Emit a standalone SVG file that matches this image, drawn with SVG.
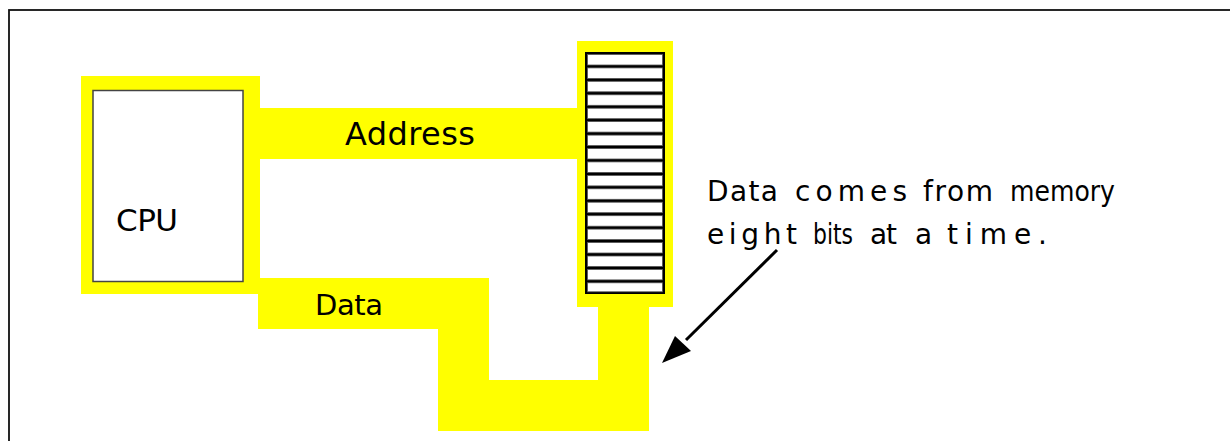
<svg xmlns="http://www.w3.org/2000/svg" width="1230" height="441" viewBox="0 0 1230 441">
<style>
.bus{fill:#ffff00}
.lbl{font-family:"DejaVu Sans",Verdana,sans-serif;fill:#000}
.nt{font-family:"DejaVu Sans",Verdana,sans-serif;fill:#000;font-size:28px}
.cell{fill:#fff;stroke:#555;stroke-width:0.8}
</style>
<rect x="0" y="0" width="1230" height="441" fill="#fff"/>
<rect x="9" y="10" width="1240" height="460" fill="none" stroke="#111" stroke-width="1.8"/>
<g id="connectors">
<rect id="address-bus" class="bus" x="258" y="108" width="322" height="51"/>
<polygon id="data-bus" class="bus" points="258,278 489,278 489,380 598,380 598,305 649,305 649,431 438,431 438,329 258,329"/>
<text class="lbl" x="345" y="145" font-size="32" textLength="130" lengthAdjust="spacing">Address</text>
<text class="lbl" x="315" y="315" font-size="29" textLength="68" lengthAdjust="spacing">Data</text>
<line x1="777" y1="250" x2="686" y2="340" stroke="#000" stroke-width="3"/>
<polygon points="662,363 675,336 691,351" fill="#000"/>
</g>
<g id="cpu">
<rect class="bus" x="81" y="76" width="179" height="218"/>
<rect x="93" y="90.5" width="150" height="191" fill="#fff" stroke="#444" stroke-width="1.5"/>
<text class="lbl" x="116" y="231" font-size="31" textLength="62" lengthAdjust="spacing">CPU</text>
</g>
<g id="memory">
<rect class="bus" x="577" y="41" width="96" height="266"/>
<rect x="585" y="52" width="80" height="242" fill="#000"/>
<g>
<rect class="cell" x="587.5" y="54.5" width="75" height="10.5"/>
<rect class="cell" x="587.5" y="67.9" width="75" height="10.5"/>
<rect class="cell" x="587.5" y="81.3" width="75" height="10.5"/>
<rect class="cell" x="587.5" y="94.8" width="75" height="10.5"/>
<rect class="cell" x="587.5" y="108.2" width="75" height="10.5"/>
<rect class="cell" x="587.5" y="121.6" width="75" height="10.5"/>
<rect class="cell" x="587.5" y="135.1" width="75" height="10.5"/>
<rect class="cell" x="587.5" y="148.5" width="75" height="10.5"/>
<rect class="cell" x="587.5" y="161.9" width="75" height="10.5"/>
<rect class="cell" x="587.5" y="175.4" width="75" height="10.5"/>
<rect class="cell" x="587.5" y="188.8" width="75" height="10.5"/>
<rect class="cell" x="587.5" y="202.2" width="75" height="10.5"/>
<rect class="cell" x="587.5" y="215.7" width="75" height="10.5"/>
<rect class="cell" x="587.5" y="229.1" width="75" height="10.5"/>
<rect class="cell" x="587.5" y="242.5" width="75" height="10.5"/>
<rect class="cell" x="587.5" y="256" width="75" height="10.5"/>
<rect class="cell" x="587.5" y="269.4" width="75" height="10.5"/>
<rect class="cell" x="587.5" y="282.8" width="75" height="9"/>
</g>
</g>
<g id="note">
<text class="nt" x="707" y="201" textLength="71" lengthAdjust="spacing">Data</text>
<text class="nt" x="795" y="201" textLength="112" lengthAdjust="spacing">comes</text>
<text class="nt" x="923" y="201" textLength="70" lengthAdjust="spacing">from</text>
<text class="nt" x="1010" y="201" textLength="105" lengthAdjust="spacingAndGlyphs">memory</text>
<text class="nt" x="707" y="244" textLength="90" lengthAdjust="spacing">eight</text>
<text class="nt" x="813" y="244" textLength="40" lengthAdjust="spacingAndGlyphs">bits</text>
<text class="nt" x="870" y="244" textLength="27" lengthAdjust="spacing">at</text>
<text class="nt" x="915" y="244" textLength="16" lengthAdjust="spacing">a</text>
<text class="nt" x="947" y="244" textLength="100" lengthAdjust="spacing">time.</text>
</g>
</svg>
